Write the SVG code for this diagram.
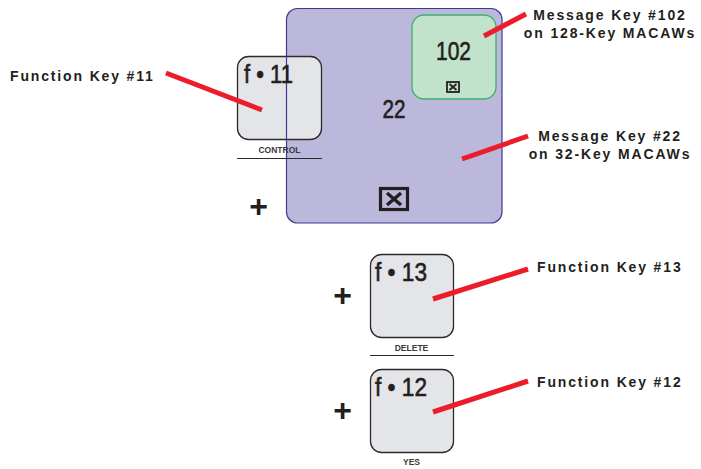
<svg xmlns="http://www.w3.org/2000/svg" width="701" height="469" viewBox="0 0 701 469">
  <style>
    .key { fill: #e4e5e8; stroke: #2b2b2b; stroke-width: 1.3; }
    .cap { font-family: "Liberation Sans", Arial, sans-serif; fill: #231f20; stroke: #231f20; stroke-width: 0.6; }
    .fn { font-size: 26px; }
    .num { font-size: 25px; text-anchor: middle; }
    .sub { font-family: "Liberation Sans", Arial, sans-serif; font-size: 8.5px; font-weight: bold; fill: #3a3a3a; text-anchor: middle; }
    .lbl { font-family: "Liberation Sans", Arial, sans-serif; font-size: 14px; font-weight: bold; fill: #231f20; letter-spacing: 1.85px; }
    .plus { font-family: "Liberation Sans", Arial, sans-serif; font-size: 32px; font-weight: bold; fill: #231f20; text-anchor: middle; }
    .ptr { stroke: #ec1c2b; stroke-width: 5; stroke-linecap: butt; fill: none; }
    .xbox { fill: none; stroke: #231f20; }
  </style>

  <!-- message key 22 (background fill) -->
  <g id="msg22">
    <rect x="286.5" y="8.5" width="215.5" height="214.5" rx="11" fill="#bcb8dc"/>
    <text class="cap num" x="394" y="118" textLength="23" lengthAdjust="spacingAndGlyphs">22</text>
    <g id="msg22-icon">
      <rect class="xbox" x="380.5" y="188.5" width="27" height="21" stroke-width="3.2"/>
      <path d="M387 193 L401 205 M401 193 L387 205" stroke="#231f20" stroke-width="3.4"/>
    </g>
  </g>

  <!-- message key 102 -->
  <g id="msg102">
    <rect x="412" y="15" width="84" height="84" rx="12" fill="#c2e3cb" stroke="#3fae6e" stroke-width="1.3"/>
    <text class="cap num" x="453.5" y="60" textLength="35" lengthAdjust="spacingAndGlyphs">102</text>
    <rect class="xbox" x="447" y="82" width="12" height="10" stroke-width="1.8"/>
    <path d="M449.5 84 L456.5 90 M456.5 84 L449.5 90" stroke="#231f20" stroke-width="1.8"/>
  </g>

  <!-- function key 11 -->
  <g id="fkey11">
    <rect class="key" x="237.5" y="56.5" width="84" height="83" rx="11"/>
    <!-- outline of key 22 passes over the key cap -->
    <rect x="286.5" y="8.5" width="215.5" height="214.5" rx="11" fill="none" stroke="#3d3d8f" stroke-width="1.2"/>
    <text class="cap fn" x="244" y="83" textLength="49" lengthAdjust="spacingAndGlyphs">f • 11</text>
    <text class="sub" x="279.5" y="153">CONTROL</text>
    <line x1="237" y1="158.5" x2="322" y2="158.5" stroke="#2b2b2b" stroke-width="1.2"/>
  </g>

  <!-- function key 13 -->
  <g id="fkey13">
    <rect class="key" x="370.5" y="254.5" width="83" height="83" rx="11"/>
    <text class="cap fn" x="375" y="281" textLength="52" lengthAdjust="spacingAndGlyphs">f • 13</text>
    <text class="sub" x="411.5" y="351">DELETE</text>
    <line x1="370" y1="355.5" x2="454" y2="355.5" stroke="#2b2b2b" stroke-width="1.2"/>
  </g>

  <!-- function key 12 -->
  <g id="fkey12">
    <rect class="key" x="370.5" y="369.5" width="83" height="83" rx="11"/>
    <text class="cap fn" x="375" y="396" textLength="52" lengthAdjust="spacingAndGlyphs">f • 12</text>
    <text class="sub" x="411.5" y="465">YES</text>
  </g>

  <!-- plus signs -->
  <g id="plus-signs">
    <text class="plus" x="258.5" y="217">+</text>
    <text class="plus" x="342.5" y="306">+</text>
    <text class="plus" x="342.5" y="421">+</text>
  </g>

  <!-- callout labels -->
  <g id="labels">
    <text class="lbl" x="10" y="81">Function Key #11</text>
    <text class="lbl" x="610" y="20" text-anchor="middle">Message Key #102</text>
    <text class="lbl" x="610" y="38" text-anchor="middle">on 128-Key MACAWs</text>
    <text class="lbl" x="610" y="141" text-anchor="middle">Message Key #22</text>
    <text class="lbl" x="610" y="159" text-anchor="middle">on 32-Key MACAWs</text>
    <text class="lbl" x="537" y="272">Function Key #13</text>
    <text class="lbl" x="537" y="387">Function Key #12</text>
  </g>

  <!-- pointer lines -->
  <g id="connectors">
    <line class="ptr" x1="166" y1="73" x2="262" y2="110"/>
    <line class="ptr" x1="484" y1="36" x2="526" y2="14"/>
    <line class="ptr" x1="462" y1="159" x2="528" y2="136"/>
    <line class="ptr" x1="433" y1="299" x2="528" y2="269"/>
    <line class="ptr" x1="433" y1="412" x2="528" y2="381"/>
  </g>
</svg>
